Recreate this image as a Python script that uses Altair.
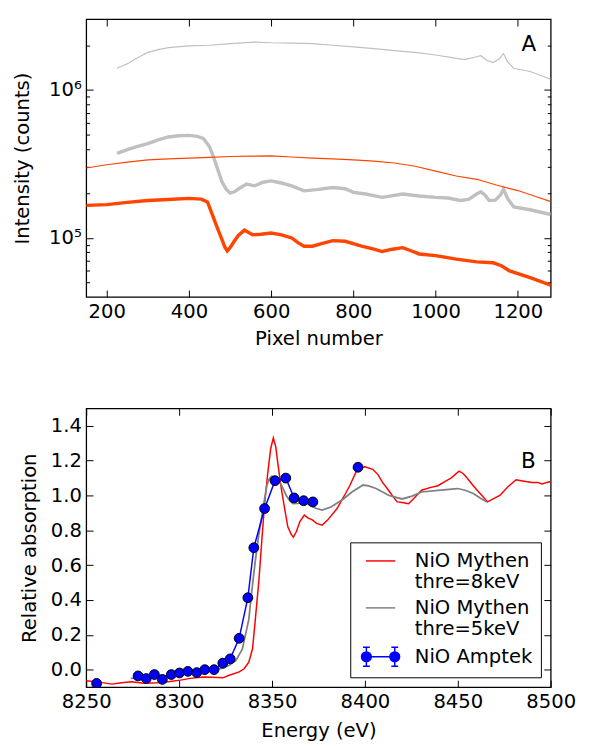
import altair as alt
import pandas as pd

# ---------------- Panel A : raw detector spectra ----------------
grey_thin_x = [225, 250, 275, 300, 325, 350, 400, 450, 500, 560, 600, 650, 700, 750, 800, 850,
               900, 950, 1000, 1040, 1070, 1095, 1110, 1125, 1140, 1155, 1165, 1175, 1190, 1230, 1280]
grey_thin_y = [1.40e6, 1.50e6, 1.65e6, 1.79e6, 1.87e6, 1.93e6, 1.98e6, 2.00e6, 2.05e6, 2.10e6, 2.08e6,
               2.07e6, 2.05e6, 2.00e6, 1.95e6, 1.90e6, 1.84e6, 1.79e6, 1.72e6, 1.65e6, 1.60e6, 1.66e6,
               1.70e6, 1.58e6, 1.53e6, 1.62e6, 1.76e6, 1.55e6, 1.40e6, 1.33e6, 1.18e6]

grey_thick_x = [225, 250, 275, 300, 325, 350, 375, 400, 420, 435, 450, 460, 470, 480, 490, 500, 510,
                520, 540, 560, 580, 600, 625, 650, 680, 710, 750, 780, 800, 830, 870, 920, 960, 1000,
                1030, 1060, 1080, 1100, 1110, 1120, 1130, 1145, 1158, 1165, 1175, 1190, 1230, 1280]
grey_thick_y = [3.73e5, 3.95e5, 4.15e5, 4.34e5, 4.60e5, 4.81e5, 4.90e5, 4.93e5, 4.85e5, 4.70e5, 4.13e5,
                3.50e5, 2.90e5, 2.40e5, 2.14e5, 2.01e5, 2.05e5, 2.14e5, 2.31e5, 2.25e5, 2.38e5, 2.43e5,
                2.35e5, 2.25e5, 2.08e5, 2.12e5, 2.19e5, 2.15e5, 2.03e5, 1.98e5, 1.88e5, 1.98e5, 1.92e5,
                1.88e5, 1.86e5, 1.79e5, 1.82e5, 1.98e5, 2.05e5, 1.95e5, 1.79e5, 1.80e5, 1.95e5, 2.14e5,
                1.85e5, 1.62e5, 1.55e5, 1.44e5]

orange_thin_x = [150, 200, 250, 300, 350, 400, 450, 500, 550, 600, 650, 700, 750, 800, 850, 900, 950,
                 1000, 1050, 1100, 1150, 1200, 1240, 1280]
orange_thin_y = [2.97e5, 3.12e5, 3.25e5, 3.37e5, 3.42e5, 3.46e5, 3.50e5, 3.55e5, 3.57e5, 3.58e5, 3.52e5,
                 3.46e5, 3.42e5, 3.37e5, 3.30e5, 3.21e5, 3.05e5, 2.83e5, 2.62e5, 2.49e5, 2.27e5, 2.09e5,
                 1.92e5, 1.76e5]

orange_thick_x = [150, 200, 250, 300, 350, 400, 430, 445, 460, 470, 480, 487, 493, 500, 510, 520, 535,
                  545, 555, 575, 600, 625, 650, 665, 680, 700, 725, 750, 780, 820, 850, 870, 895, 920,
                  940, 960, 1000, 1050, 1100, 1140, 1160, 1180, 1230, 1280]
orange_thick_y = [1.66e5, 1.68e5, 1.74e5, 1.79e5, 1.82e5, 1.85e5, 1.83e5, 1.75e5, 1.36e5, 1.15e5, 9.77e4,
                  8.70e4, 8.17e4, 8.60e4, 9.50e4, 1.04e5, 1.13e5, 1.09e5, 1.05e5, 1.06e5, 1.08e5, 1.05e5,
                  1.00e5, 9.30e4, 8.80e4, 8.80e4, 9.20e4, 9.60e4, 9.50e4, 8.80e4, 8.40e4, 8.10e4, 8.40e4,
                  8.60e4, 8.20e4, 7.80e4, 7.60e4, 7.20e4, 6.90e4, 6.80e4, 6.50e4, 6.00e4, 5.40e4, 4.80e4]

GREY_A = "#c0c0c0"
ORANGE_A = "#ff4500"

xticksA = [200, 400, 600, 800, 1000, 1200]
yticksA = [1e5, 1e6]
yminorA = [5e4, 6e4, 7e4, 8e4, 9e4, 2e5, 3e5, 4e5, 5e5, 6e5, 7e5, 8e5, 9e5, 2e6]

# ---------------- Panel B : absorption spectra ----------------
red_e = [8250, 8256, 8263.8, 8269, 8274.4, 8281, 8288.4, 8295, 8300.7, 8306, 8313, 8318, 8323.5, 8327,
         8332.3, 8335, 8337.5, 8339.5, 8341, 8343, 8344.6, 8346, 8347.7, 8349.3, 8350.7, 8352, 8353.3,
         8355, 8356.8, 8358.5, 8360.4, 8361.5, 8363, 8365, 8367.4, 8369.5, 8371.7, 8374, 8377, 8380,
         8385, 8389, 8392, 8396.3, 8400, 8404.2, 8407, 8409.5, 8412, 8414.7, 8417.4, 8420, 8423.5, 8426,
         8430.5, 8435, 8439.3, 8443, 8446.3, 8450.7, 8453, 8455, 8458, 8460.4, 8463, 8466, 8469, 8472.6,
         8477, 8481.4, 8484, 8486.7, 8490, 8493, 8495.4, 8498, 8500]
red_v = [-0.064, -0.07, -0.083, -0.075, -0.07, -0.078, -0.075, -0.068, -0.06, -0.05, -0.042, -0.043,
         -0.047, -0.032, -0.013, 0.005, 0.043, 0.12, 0.287, 0.52, 0.756, 0.95, 1.13, 1.27, 1.33, 1.28,
         1.17, 1.04, 0.925, 0.82, 0.775, 0.76, 0.79, 0.85, 0.887, 0.87, 0.86, 0.84, 0.83, 0.86, 0.925,
         1.0, 1.06, 1.16, 1.165, 1.15, 1.12, 1.075, 1.04, 1.0, 0.963, 0.96, 0.953, 0.98, 1.03, 1.045,
         1.056, 1.08, 1.10, 1.14, 1.125, 1.10, 1.06, 1.03, 1.0, 0.963, 0.98, 1.0, 1.05, 1.09, 1.085,
         1.08, 1.075, 1.075, 1.066, 1.075, 1.08]

grey_e = [8274, 8280, 8286, 8292, 8300, 8309.5, 8316, 8323.5, 8327, 8330.5, 8334, 8337.5, 8339, 8341,
          8342.8, 8344.6, 8346, 8347.2, 8348.5, 8349.8, 8351.5, 8353.3, 8355.5, 8357.7, 8359.5, 8361.2,
          8364, 8367.4, 8371, 8374, 8377, 8382, 8388.4, 8393, 8399, 8402, 8406, 8413, 8420, 8425,
          8430.5, 8439.3, 8449.8, 8454, 8458.6, 8462, 8465.6]
grey_v = [-0.05, -0.048, -0.042, -0.036, -0.028, -0.017, -0.005, 0.009, 0.025, 0.052, 0.118, 0.287,
          0.44, 0.625, 0.77, 0.887, 0.98, 1.056, 1.095, 1.11, 1.105, 1.094, 1.05, 1.0, 0.97, 0.953,
          0.955, 0.963, 0.94, 0.925, 0.916, 0.935, 0.98, 1.02, 1.06, 1.055, 1.04, 1.0, 0.98, 0.995,
          1.02, 1.03, 1.04, 1.03, 1.01, 0.985, 0.963]

amp_e = [8255.6, 8277.9, 8282.3, 8286.7, 8291, 8295.8, 8300.2, 8304.7, 8309.5, 8313.8, 8318.8, 8323.5,
         8327.5, 8332.3, 8337, 8340.2, 8346, 8351.6, 8357.4, 8361.9, 8367, 8372, 8396.3]
amp_v = [-0.079, -0.036, -0.051, -0.028, -0.056, -0.028, -0.019, -0.01, -0.017, 0.0, 0.0, 0.037,
         0.062, 0.18, 0.413, 0.70, 0.925, 1.085, 1.10, 0.986, 0.97, 0.963, 1.162]
amp_err = [0.012, 0.012, 0.012, 0.012, 0.012, 0.012, 0.012, 0.012, 0.012, 0.012, 0.012, 0.012,
           0.012, 0.012, 0.012, 0.012, 0.012, 0.012, 0.012, 0.012, 0.012, 0.012, 0.012]
amp_seg = [0, 1, 1, 1, 1, 1, 1, 1, 1, 1, 1, 1, 1, 1, 1, 1, 1, 1, 1, 1, 1, 1, 2]

seriesB = ["NiO Mythen|thre=8keV", "NiO Mythen|thre=5keV", "NiO Amptek"]
colorsB = ["#ff0000", "#808080", "#0000ff"]

xticksB = [8250, 8300, 8350, 8400, 8450, 8500]
yticksB = [0.0, 0.2, 0.4, 0.6, 0.8, 1.0, 1.2, 1.4]

panel_labels = ["A", "B"]
panel_label_x = [1227, 8488]
panel_label_y = [2.03e6, 1.195]

FONT = "DejaVu Sans"
FS = 20

# ---------- data frames ----------
df_gthin = pd.DataFrame({"x": grey_thin_x, "y": grey_thin_y})
df_gthick = pd.DataFrame({"x": grey_thick_x, "y": grey_thick_y})
df_othin = pd.DataFrame({"x": orange_thin_x, "y": orange_thin_y})
df_othick = pd.DataFrame({"x": orange_thick_x, "y": orange_thick_y})
labA = pd.DataFrame({"x": [panel_label_x[0]], "y": [panel_label_y[0]], "t": [panel_labels[0]]})

df_red = pd.DataFrame({"e": red_e, "v": red_v})
df_grey = pd.DataFrame({"e": grey_e, "v": grey_v})
df_amp = pd.DataFrame({"e": amp_e, "v": amp_v, "err": amp_err, "seg": amp_seg})
df_amp["lo"] = df_amp["v"] - df_amp["err"]
df_amp["hi"] = df_amp["v"] + df_amp["err"]
labB = pd.DataFrame({"e": [panel_label_x[1]], "v": [panel_label_y[1]], "t": [panel_labels[1]]})
df_leg = pd.DataFrame({"series": seriesB})

MAJ = 7
MIN = 3.5


def tick_axis(orient, values, size, labels=False, **kw):
    return alt.Axis(orient=orient, values=values, tickSize=size, offset=-size, domain=False,
                    grid=False, labels=labels, tickColor="black", tickWidth=1, **kw)


# ---------------- Panel A chart ----------------
scxA = alt.Scale(domain=[150, 1280], nice=False, zero=False, padding=0)
scyA = alt.Scale(type="log", domain=[4e4, 3e6], nice=False, padding=0)

xA_main = alt.X("x:Q", scale=scxA,
                axis=tick_axis("bottom", xticksA, MAJ, labels=True, title="Pixel number",
                               labelPadding=5, titlePadding=8, format="d", labelFlush=False))
yA_main = alt.Y("y:Q", scale=scyA,
                axis=tick_axis("left", yticksA, MAJ, labels=True, title="Intensity (counts)",
                               labelPadding=5, titlePadding=17, labelFlush=False,
                               labelExpr="datum.value < 500000 ? '10⁵' : '10⁶'"))
xA_none = alt.X("x:Q", scale=scxA, axis=None)
yA_none = alt.Y("y:Q", scale=scyA, axis=None)

l_gthin = alt.Chart(df_gthin).mark_line(color=GREY_A, strokeWidth=1.2, clip=True).encode(x=xA_main, y=yA_main)
l_gthick = alt.Chart(df_gthick).mark_line(color=GREY_A, strokeWidth=3.5, clip=True).encode(x=xA_none, y=yA_none)
l_othin = alt.Chart(df_othin).mark_line(color=ORANGE_A, strokeWidth=1.2, clip=True).encode(x=xA_none, y=yA_none)
l_othick = alt.Chart(df_othick).mark_line(color=ORANGE_A, strokeWidth=3.5, clip=True).encode(x=xA_none, y=yA_none)

ghostA1 = alt.Chart(labA).mark_point(opacity=0).encode(
    x=alt.X("x:Q", scale=scxA, axis=tick_axis("top", xticksA, MAJ, title=None)),
    y=alt.Y("y:Q", scale=scyA, axis=tick_axis("right", yticksA, MAJ, title=None)),
)
ghostA2 = alt.Chart(labA).mark_point(opacity=0).encode(
    x=xA_none,
    y=alt.Y("y:Q", scale=scyA, axis=tick_axis("left", yminorA, MIN, title=None)),
)
ghostA3 = alt.Chart(labA).mark_point(opacity=0).encode(
    x=xA_none,
    y=alt.Y("y:Q", scale=scyA, axis=tick_axis("right", yminorA, MIN, title=None)),
)
textA = alt.Chart(labA).mark_text(fontSize=22, font=FONT, color="black").encode(
    x=xA_none, y=yA_none, text="t:N",
)

panelA = alt.layer(l_gthin, l_gthick, l_othin, l_othick, ghostA1, ghostA2, ghostA3, textA).resolve_axis(
    x="independent", y="independent").properties(width=475, height=284)

# ---------------- Panel B chart ----------------
scxB = alt.Scale(domain=[8250, 8500], nice=False, zero=False, padding=0)
scyB = alt.Scale(domain=[-0.1, 1.5], nice=False, zero=False, padding=0)
xB_none = alt.X("e:Q", scale=scxB, axis=None)
yB_none = alt.Y("v:Q", scale=scyB, axis=None)

redB = alt.Chart(df_red).mark_line(color="#ff0000", strokeWidth=1.5, clip=True).encode(
    x=alt.X("e:Q", scale=scxB,
            axis=tick_axis("bottom", xticksB, MAJ, labels=True, title="Energy (eV)",
                           labelPadding=5, titlePadding=10, format="d", labelFlush=False)),
    y=alt.Y("v:Q", scale=scyB,
            axis=tick_axis("left", yticksB, MAJ, labels=True, title="Relative absorption",
                           labelPadding=5, titlePadding=11, format=".1f", labelFlush=False)),
)
greyB = alt.Chart(df_grey).mark_line(color="#808080", strokeWidth=1.8, clip=True).encode(
    x=alt.X("e:Q", scale=scxB, axis=tick_axis("top", xticksB, MAJ, title=None)),
    y=alt.Y("v:Q", scale=scyB, axis=tick_axis("right", yticksB, MAJ, title=None)),
)
errB = alt.Chart(df_amp).mark_errorbar(ticks={"size": 7}, color="#0000ff", clip=True).encode(
    x=xB_none,
    y=alt.Y("lo:Q", scale=scyB, axis=None),
    y2="hi:Q",
)
ampLine = alt.Chart(df_amp).mark_line(color="#0000ff", strokeWidth=1.5, clip=True).encode(
    x=xB_none, y=yB_none, detail="seg:N",
)
ampPts = alt.Chart(df_amp).mark_point(filled=True, fill="#0000ff", stroke="black", strokeWidth=1,
                                      size=100, opacity=1, clip=True).encode(x=xB_none, y=yB_none)
textB = alt.Chart(labB).mark_text(fontSize=22, font=FONT, color="black").encode(
    x=xB_none, y=yB_none, text="t:N",
)

# legend glyphs (unit = 10 px at symbolSize 400)
line_sym = "M-1.5,0H1.5"
blue_sym = ("M-1.5,0H1.5M-1.45,-0.97V0.97M1.45,-0.97V0.97M-1.8,-0.97H-1.1M-1.8,0.97H-1.1"
            "M1.1,-0.97H1.8M1.1,0.97H1.8"
            "M-0.95,0A0.5,0.5,0,1,1,-1.95,0A0.5,0.5,0,1,1,-0.95,0Z"
            "M1.95,0A0.5,0.5,0,1,1,0.95,0A0.5,0.5,0,1,1,1.95,0Z")

leg = alt.Legend(title=None, orient="bottom-right", offset=10,
                 labelExpr="split(datum.label, '|')", symbolOpacity=1)
legendB = alt.Chart(df_leg).mark_point(opacity=0).encode(
    fill=alt.Fill("series:N", scale=alt.Scale(domain=seriesB, range=colorsB), legend=leg),
    stroke=alt.Stroke("series:N", scale=alt.Scale(domain=seriesB, range=colorsB), legend=leg),
    shape=alt.Shape("series:N", scale=alt.Scale(domain=seriesB, range=[line_sym, line_sym, blue_sym]),
                    legend=leg),
)

panelB = alt.layer(redB, greyB, errB, ampLine, ampPts, textB, legendB).resolve_axis(
    x="independent", y="independent").properties(width=475, height=285)

chart = alt.vconcat(panelA, panelB, spacing=58).resolve_scale(
    fill="independent", stroke="independent", shape="independent"
).resolve_legend(
    fill="independent", stroke="independent", shape="independent"
).properties(
    padding={"left": 3, "top": 1, "right": 5, "bottom": 5}
).configure(font=FONT).configure_view(
    stroke="black", strokeWidth=1.3
).configure_axis(
    labelFontSize=FS, titleFontSize=FS, titleFontWeight="normal", labelColor="black",
    titleColor="black", labelFont=FONT, titleFont=FONT
).configure_legend(
    labelFontSize=FS, labelFont=FONT, labelColor="black", symbolSize=400, symbolStrokeWidth=1.5,
    padding=8, fillColor="white", strokeColor="black", rowPadding=5, labelOffset=24,
    symbolOffset=12, labelLimit=300
)

chart.save("out.html", embed_options={"renderer": "svg", "actions": False})
